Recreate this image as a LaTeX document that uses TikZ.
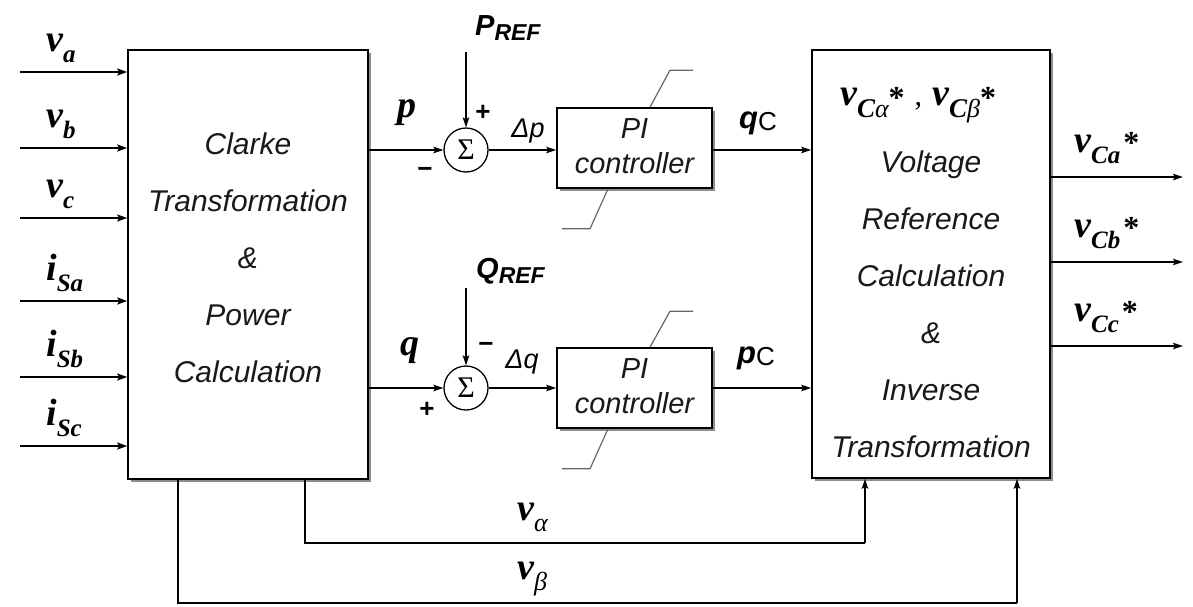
\documentclass[tikz,border=0pt]{standalone}
\usepackage{fontspec}
\setmainfont{Liberation Serif}
\setsansfont{Liberation Sans}
\usetikzlibrary{arrows.meta,shadows}
\newcommand{\bival}[1]{{\fontsize{38}{40}\selectfont\bfseries\itshape #1}}
\newcommand{\sigl}[2]{\bival{#1}\raisebox{-11pt}{\fontsize{25}{26}\selectfont\bfseries\itshape #2}}
\newcommand{\grk}[1]{{\fontsize{26}{26}\selectfont\mdseries\itshape #1}}
\newcommand{\strs}{\raisebox{-3pt}{\fontsize{32}{32}\selectfont\bfseries *}}
\begin{document}
\begin{tikzpicture}[x=1pt,y=-1pt,
  blk/.style={draw,line width=1.6pt,fill=white,inner sep=0pt,
    drop shadow={shadow xshift=3pt,shadow yshift=-3pt,fill=black!45,opacity=1}},
  btxt/.style={font=\sffamily\itshape\fontsize{30}{57}\selectfont,align=center,text=black!90},
  pitxt/.style={font=\sffamily\itshape\fontsize{29}{35}\selectfont,align=center,text=black!90},
  sumnode/.style={draw,circle,line width=1.3pt,minimum size=44pt,inner sep=0pt,fill=white,
    font=\rmfamily\fontsize{30}{30}\selectfont},
  arr/.style={line width=1.5pt,-{Stealth[length=10pt,width=6.5pt,inset=2pt]}},
  inarr/.style={line width=2.2pt,-{Stealth[length=10pt,width=7pt,inset=2pt]}},
  ln/.style={line width=1.5pt},
  sat/.style={line width=1.2pt,black!60},
  lbl/.style={anchor=base west,inner sep=0pt},
  sgn/.style={font=\sffamily\bfseries\fontsize{26}{26}\selectfont,inner sep=0pt},
  dlt/.style={font=\sffamily\itshape\fontsize{27}{27}\selectfont,inner sep=0pt}
]
\useasboundingbox (0,0) rectangle (1193,606);

% main blocks
\node[blk,minimum width=240pt,minimum height=429pt] (L) at (248,264.5) {};
\node[btxt] (Ltext) at (248,258) {Clarke\\Transformation\\\&\\Power\\Calculation};
\node[blk,minimum width=238pt,minimum height=428pt] (R) at (931,264) {};
\node[lbl] (Rlab) at (840,105) {\bival{v}\raisebox{-12pt}{\fontsize{27}{27}\selectfont\bfseries\itshape C\grk{α}}\strs\hspace{10pt}{\fontsize{30}{30}\selectfont ,}\hspace{10pt}\bival{v}\raisebox{-12pt}{\fontsize{27}{27}\selectfont\bfseries\itshape C\grk{β}}\strs};
\node[btxt] (Rtext) at (931,304) {Voltage\\Reference\\Calculation\\\&\\Inverse\\Transformation};

% sum junctions and PI blocks
\node[sumnode] (S1) at (466,150) {Σ};
\node[sumnode] (S2) at (466,388) {Σ};
\node[blk,minimum width=155pt,minimum height=80pt] (PI1) at (634.5,148) {};
\node[pitxt] (PI1t) at (634.5,146) {PI\\controller};
\node[blk,minimum width=155pt,minimum height=80pt] (PI2) at (634.5,388) {};
\node[pitxt] (PI2t) at (634.5,386) {PI\\controller};

% saturation marks
\draw[sat] ([xshift=15.5pt]PI1.north) -- ++(20,-37) -- ++(23,0);
\draw[sat] ([xshift=-26.5pt]PI1.south) -- ++(-18,40) -- ++(-28,0);
\draw[sat] ([xshift=15.5pt]PI2.north) -- ++(20,-36) -- ++(23,0);
\draw[sat] ([xshift=-26.5pt]PI2.south) -- ++(-18,40) -- ++(-28,0);

% inputs
\foreach \nm/\yy/\sy/\ss in {ia/72/v/a, ib/148/v/b, ic/218/v/c, id/301/i/Sa, ie/377/i/Sb, if/446/i/Sc}{
  \coordinate (\nm) at (20,\yy);
  \draw[inarr] (\nm) -- (\nm -| L.west);
  \node[lbl] (\nm lab) at (46,\yy-21) {\sigl{\sy}{\ss}};
}

% outputs
\foreach \nm/\yy/\ss in {oa/177/Ca, ob/262/Cb, oc/346/Cc}{
  \coordinate (\nm) at (1183,\yy);
  \draw[arr] (\nm -| R.east) -- (\nm);
  \node[lbl] (\nm lab) at (1074,\yy-25) {\sigl{v}{\ss}\hspace{3pt}\raisebox{-1pt}{\fontsize{32}{32}\selectfont\bfseries *}};
}

% upper loop
\coordinate (pref) at (466,52);
\draw[arr] (L.east |- S1) -- (S1.west);
\draw[arr] (pref) -- (S1.north);
\draw[arr] (S1.east) -- (PI1.west |- S1);
\draw[arr] (PI1.east |- S1) -- (R.west |- S1);
\node[lbl] (plab) at (397,117) {\bival{p}};
\node[lbl] (preflab) at (475,35) {\sffamily\bfseries\itshape\fontsize{29}{29}\selectfont P\raisebox{-5pt}{\fontsize{23}{23}\selectfont REF}};
\node[sgn] (s1p) at (483,113) {+};
\node[sgn] (s1m) at (425,172) {−};
\node[dlt] (dp) at (528,131) {Δp};
\node[lbl] (qclab) at (739,128) {\sffamily\bfseries\itshape\fontsize{31}{31}\selectfont q\raisebox{-2pt}{\mdseries\upshape\fontsize{26}{26}\selectfont C}};

% lower loop
\coordinate (qref) at (466,288);
\draw[arr] (L.east |- S2) -- (S2.west);
\draw[arr] (qref) -- (S2.north);
\draw[arr] (S2.east) -- (PI2.west |- S2);
\draw[arr] (PI2.east |- S2) -- (R.west |- S2);
\node[lbl] (qlab) at (400,355) {\bival{q}};
\node[lbl] (qreflab) at (476,278) {\sffamily\bfseries\itshape\fontsize{29}{29}\selectfont Q\raisebox{-5pt}{\fontsize{23}{23}\selectfont REF}};
\node[sgn] (s2m) at (486,347) {−};
\node[sgn] (s2p) at (427,410) {+};
\node[dlt] (dq) at (522,362) {Δq};
\node[lbl] (pclab) at (737,363) {\sffamily\bfseries\itshape\fontsize{31}{31}\selectfont p\raisebox{-2pt}{\mdseries\upshape\fontsize{26}{26}\selectfont C}};

% v alpha / v beta feedforward
\coordinate (ax) at (305,543);
\coordinate (ae) at (865,543);
\draw[ln] (ax |- L.south) -- (ax) -- (ae);
\draw[arr] (ae) -- (ae |- R.south);
\coordinate (bx) at (178,603);
\coordinate (be) at (1017,603);
\draw[ln] (bx |- L.south) -- (bx) -- (be);
\draw[arr] (be) -- (be |- R.south);
\node[lbl] (valab) at (517,520) {\bival{v}\raisebox{-11pt}{\grk{α}}};
\node[lbl] (vblab) at (517,579) {\bival{v}\raisebox{-11pt}{\grk{β}}};
\end{tikzpicture}
\end{document}
